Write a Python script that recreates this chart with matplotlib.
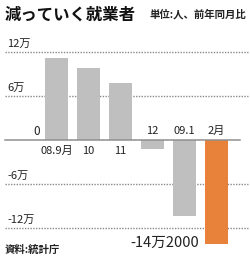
import matplotlib.pyplot as plt
import matplotlib.transforms as mtransforms

plt.rcParams['font.family'] = ['Noto Sans CJK JP', 'DejaVu Sans']

# data (unit: 万人, change vs same month a year earlier)
months = ['08.9月', '10', '11', '12', '09.1', '2月']
change = [11.2, 9.8, 7.8, -1.2, -10.4, -14.2]
yticks = [12, 6, 0, -6, -12]
ytick_labels = ['12万', '6万', '0', '-6万', '-12万']
bar_colors = ['#bfbfbf'] * 5 + ['#e8823a']

fig = plt.figure(figsize=(2.5, 2.62), dpi=100)
ax = fig.add_axes([0, 0, 1, 1])
ax.set_xlim(-1.766, 6.047)
ax.set_ylim(-16.64, 19.09)
ax.axis('off')

xs = list(range(len(months)))
ax.bar(xs, change, width=0.72, color=bar_colors, zorder=3)

# grid lines and y labels
trans = mtransforms.blended_transform_factory(ax.transAxes, ax.transData)
for v, lab in zip(yticks, ytick_labels):
    if v == 0:
        ax.plot([0.02, 0.96], [0, 0], transform=trans, color='#909090', lw=1.1, zorder=4)
        ax.text(0.145, 0.25, lab, transform=trans, ha='center', va='bottom',
                fontsize=8.5, color='#222222')
    else:
        ax.plot([0.02, 0.99], [v, v], transform=trans, color='#8a8a8a', lw=1.0,
                ls=(0, (1, 1)), zorder=1)
        ax.text(0.03, v + 0.4, lab, transform=trans, ha='left', va='bottom',
                fontsize=8, color='#222222')

# category labels: below the axis for gains, above it for losses
for x, v, m in zip(xs, change, months):
    if v >= 0:
        ax.text(x, -0.8, m, ha='center', va='top', fontsize=8, color='#222222')
    else:
        ax.text(x, 0.6, m, ha='center', va='bottom', fontsize=8, color='#222222')

ax.text(4.45, change[-1] + 0.2, '-14万2000', ha='right', va='center',
        fontsize=10.5, color='#222222')

fig.text(0.02, 0.945, '減っていく就業者', ha='left', va='center',
         fontsize=11.8, fontweight='bold', color='#111111')
fig.text(0.985, 0.945, '単位:人、前年同月比', ha='right', va='center',
         fontsize=7.5, fontweight='bold', color='#222222')
fig.text(0.02, 0.045, '資料:統計庁', ha='left', va='center',
         fontsize=7.5, fontweight='bold', color='#222222')

fig.savefig('out.png', dpi=100)
